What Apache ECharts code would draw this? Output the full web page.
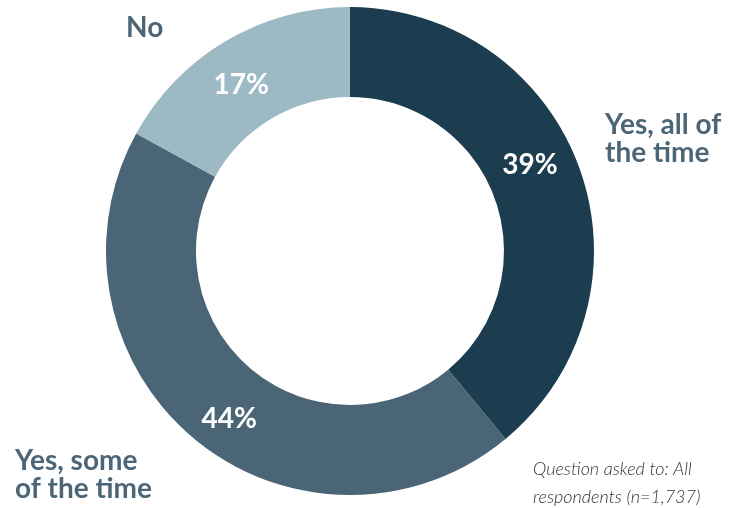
<!DOCTYPE html>
<html>
<head>
<meta charset="utf-8">
<script src="https://cdn.jsdelivr.net/npm/echarts@6/dist/echarts.min.js"></script>
<style>
  html, body { margin: 0; padding: 0; background: #ffffff; }
  #chart { width: 731px; height: 508px; }
</style>
</head>
<body>
<div id="chart"></div>
<script>
// Survey answers, share of respondents (%)
const categories = ['Yes, all of the time', 'Yes, some of the time', 'No'];
const categoryLabels = ['Yes, all of\nthe time', 'Yes, some\nof the time', 'No'];
const shares = [39, 44, 17];
const sliceColors = ['#1b3d4f', '#4a6576', '#9cb9c4'];
const noteLines = ['Question asked to: All', 'respondents (n=1,737)'];

const FONT = 'Lato, "Noto Sans", sans-serif';
const ringCenter = [350, 251];
const ringRadius = [154, 244];

// nudges for the percentage labels inside the ring
const pctNudge = [[-10, -18], [8, 12], [-6, 8]];
// anchor points for the category names around the ring
const nameAnchor = [
  { x: 605, y: 139, align: 'left' },
  { x: 15, y: 475, align: 'left' },
  { x: 126, y: 28, align: 'left' }
];

const ringData = categories.map((c, i) => ({
  name: c,
  value: shares[i],
  itemStyle: { color: sliceColors[i] }
}));

const chart = echarts.init(document.getElementById('chart'), null, { renderer: 'canvas' });
chart.setOption({
  animation: false,
  backgroundColor: '#ffffff',
  series: [
    {
      type: 'pie',
      center: ringCenter,
      radius: ringRadius,
      startAngle: 90,
      clockwise: true,
      silent: true,
      itemStyle: { borderWidth: 0 },
      label: {
        show: true,
        position: 'inside',
        formatter: p => p.value + '%',
        color: '#ffffff',
        fontFamily: FONT,
        fontWeight: 'bold',
        fontSize: 28
      },
      labelLine: { show: false },
      labelLayout: p => ({ dx: pctNudge[p.dataIndex][0], dy: pctNudge[p.dataIndex][1] }),
      data: ringData
    },
    {
      type: 'pie',
      center: ringCenter,
      radius: ringRadius,
      startAngle: 90,
      clockwise: true,
      silent: true,
      itemStyle: { color: 'rgba(0,0,0,0)', borderWidth: 0 },
      label: {
        show: true,
        position: 'outside',
        formatter: p => categoryLabels[p.dataIndex],
        color: '#4d6677',
        fontFamily: FONT,
        fontWeight: 'bold',
        fontSize: 28,
        lineHeight: 28,
        overflow: 'none',
        width: 200
      },
      labelLine: { show: false },
      labelLayout: p => ({
        x: nameAnchor[p.dataIndex].x,
        y: nameAnchor[p.dataIndex].y,
        align: nameAnchor[p.dataIndex].align,
        verticalAlign: 'middle'
      }),
      data: categories.map((c, i) => ({ name: c, value: shares[i] }))
    }
  ],
  graphic: [
    {
      type: 'text',
      left: 533,
      top: 455,
      silent: true,
      style: {
        text: noteLines.join('\n'),
        fill: '#333333',
        font: 'italic 300 18px ' + FONT,
        lineHeight: 28
      }
    }
  ]
});
</script>
</body>
</html>
